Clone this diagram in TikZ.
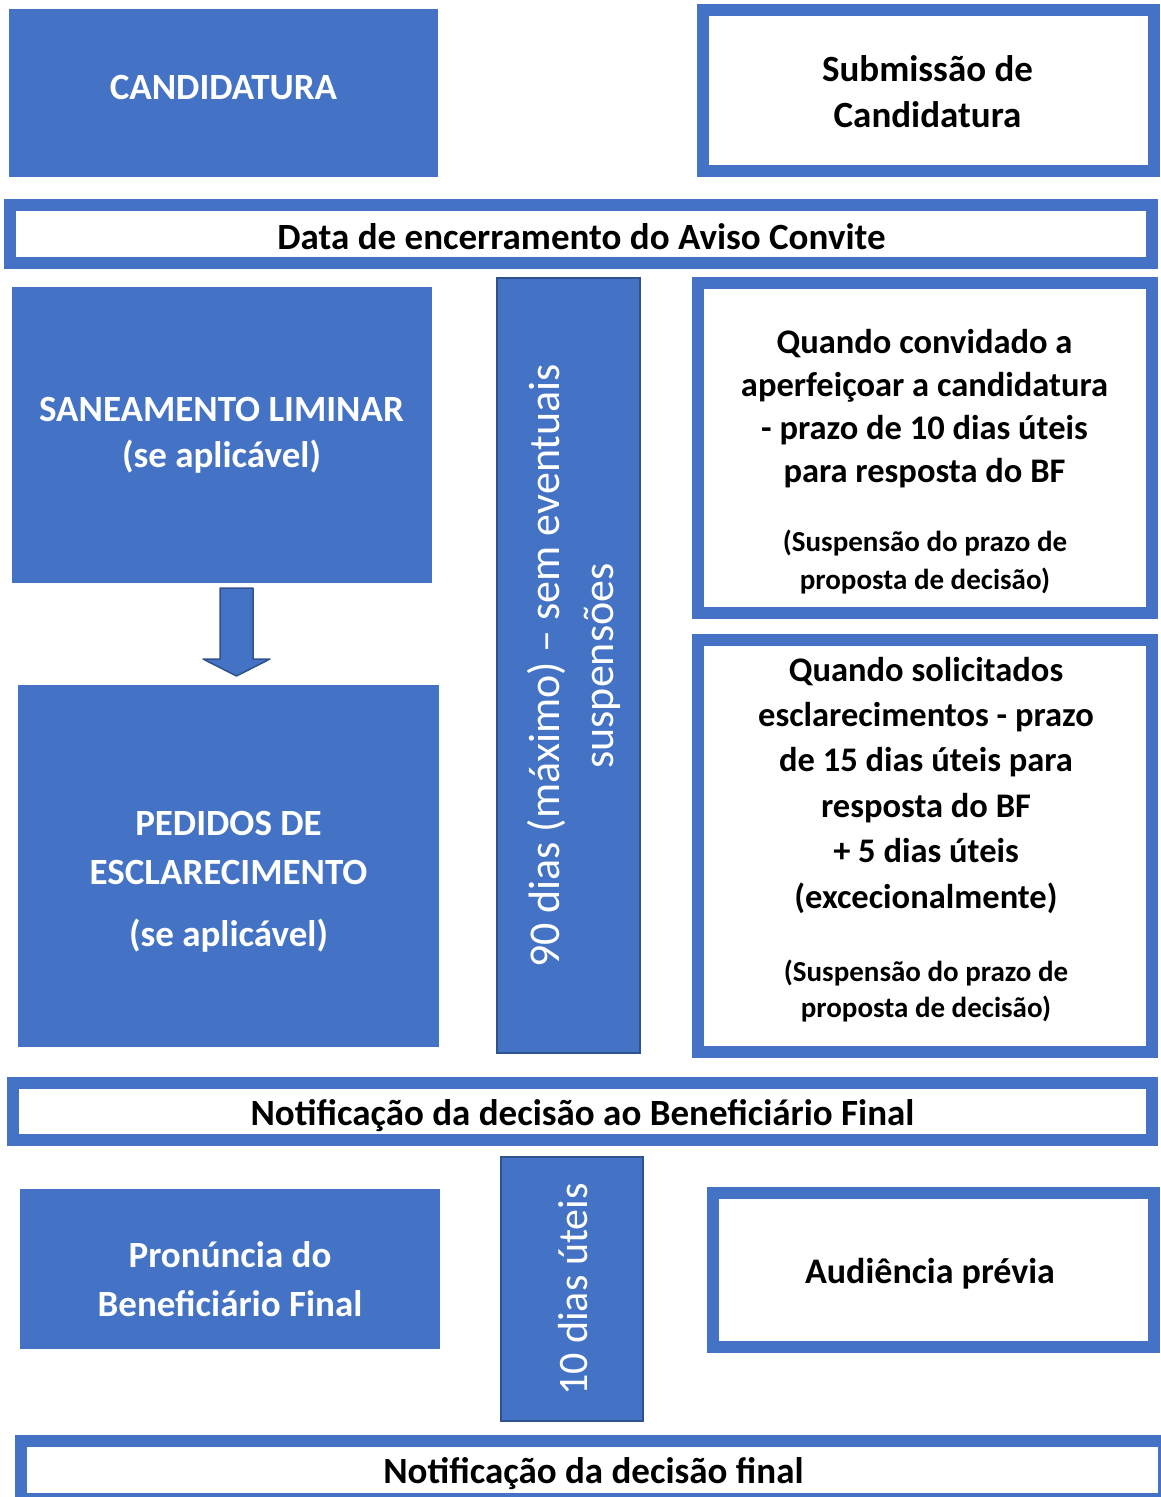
\documentclass[tikz,border=0pt]{standalone}
\usepackage{fontspec}
\setmainfont{Carlito}
\definecolor{myblue}{HTML}{4472C4}
\definecolor{darkblue}{HTML}{2F528F}
\begin{document}
\begin{tikzpicture}[x=1pt,y=-1pt,
  solidbox/.style={fill=myblue, draw=none, inner sep=0pt, outer sep=0pt},
  framebox/.style={fill=white, draw=myblue, line width=12pt, inner sep=0pt, outer sep=0pt},
  barbox/.style={fill=myblue, draw=darkblue, line width=2.5pt, inner sep=0pt, outer sep=0pt, rotate=90},
  txt/.style={inner sep=0pt, outer sep=0pt, align=center},
  big/.style={font=\bfseries\fontsize{37}{46}\selectfont},
  blockarrow/.style={fill=myblue, draw=darkblue, line width=1.5pt, line join=round}
]
\useasboundingbox (0,0) rectangle (1161,1497);
\clip (0,0) rectangle (1161,1497);

% boxes
\node[solidbox, minimum width=429pt, minimum height=168pt] (cand) at (223.5,93) {};
\node[framebox, minimum width=451pt, minimum height=161pt] (sub) at (928.5,90.5) {};
\node[framebox, minimum width=1142pt, minimum height=58pt] (data) at (581,234) {};
\node[solidbox, minimum width=420pt, minimum height=296pt] (san) at (222,435) {};
\node[solidbox, minimum width=421pt, minimum height=362pt] (ped) at (228.5,866) {};
\node[barbox, minimum width=775pt, minimum height=143pt] (bar90) at (568.5,665.5) {};
\node[framebox, minimum width=454pt, minimum height=330pt] (q1) at (925,448) {};
\node[framebox, minimum width=454pt, minimum height=412pt] (q2) at (925,846) {};
\node[framebox, minimum width=1139pt, minimum height=57pt] (notif) at (582.5,1111.5) {};
\node[barbox, minimum width=264pt, minimum height=142pt] (bar10) at (572,1289) {};
\node[solidbox, minimum width=420pt, minimum height=160pt] (pro) at (230,1269) {};
\node[framebox, minimum width=441pt, minimum height=154pt] (aud) at (933.5,1270) {};
\node[framebox, minimum width=1143pt, minimum height=58pt] (fin) at (592.5,1470) {};

% block arrow between SANEAMENTO and PEDIDOS
\draw[blockarrow] (220,588) -- (253,588) -- (253,659) -- (270,659) -- (236.5,676) -- (203,659) -- (220,659) -- cycle;

% texts
\node[txt, text=white, big] (tcand) at (223.5,87) {CANDIDATURA};
\node[txt, big] (tsub) at (927.5,92) {Submissão de\\Candidatura};
\node[txt, big] (tdata) at (581.5,237) {Data de encerramento do Aviso Convite};
\node[txt, text=white, big] (tsan) at (221.5,435) {SANEAMENTO LIMINAR\\(se aplicável)};
\node[txt, text=white, font=\bfseries\fontsize{37}{49}\selectfont] (tped) at (228.5,882) {PEDIDOS DE\\ESCLARECIMENTO\\[13pt](se aplicável)};
\node[txt, font=\bfseries\fontsize{34.5}{43}\selectfont] (tq1a) at (924.5,409) {Quando convidado a\\aperfeiçoar a candidatura\\- prazo de 10 dias úteis\\para resposta do BF};
\node[txt, font=\bfseries\fontsize{29}{38}\selectfont] (tq1b) at (925,562) {(Suspensão do prazo de\\proposta de decisão)};
\node[txt, font=\bfseries\fontsize{34.5}{45.4}\selectfont] (tq2a) at (926,785) {Quando solicitados\\esclarecimentos - prazo\\de 15 dias úteis para\\resposta do BF\\+ 5 dias úteis\\(excecionalmente)};
\node[txt, font=\bfseries\fontsize{29}{36}\selectfont] (tq2b) at (926,991) {(Suspensão do prazo de\\proposta de decisão)};
\node[txt, big] (tnot) at (582.5,1116) {Notificação da decisão ao Beneficiário Final};
\node[txt, text=white, font=\bfseries\fontsize{37}{49}\selectfont] (tpro) at (230,1279.5) {Pronúncia do\\Beneficiário Final};
\node[txt, font=\bfseries\fontsize{36}{45}\selectfont] (taud) at (930,1274) {Audiência prévia};
\node[txt, big] (tfin) at (593.5,1474) {Notificação da decisão final};
\node[txt, text=white, rotate=90, font=\fontsize{44}{54}\selectfont] (t90) at (574,666) {90 dias (máximo) – sem eventuais\\suspensões};
\node[txt, text=white, rotate=90, font=\fontsize{42}{50}\selectfont] (t10) at (573,1289.5) {10 dias úteis};
\end{tikzpicture}
\end{document}
